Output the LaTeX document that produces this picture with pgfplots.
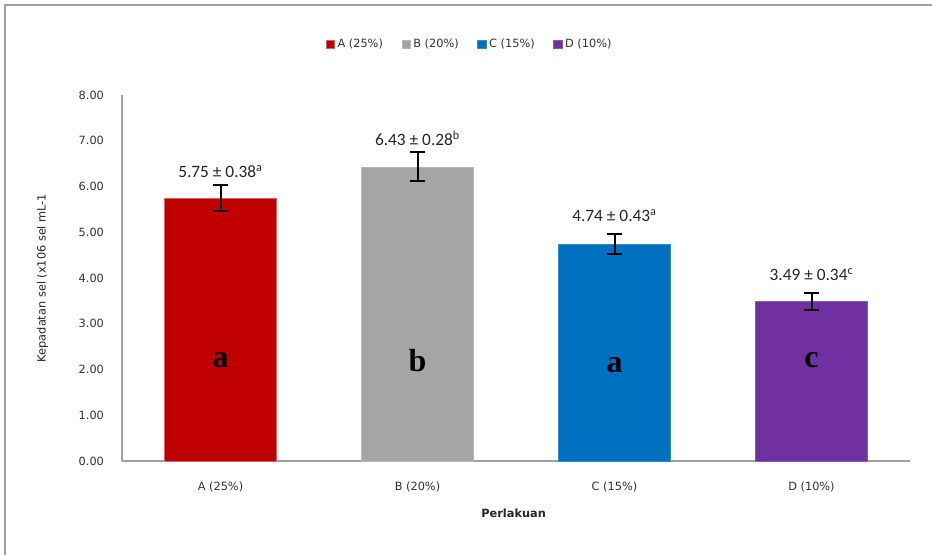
\documentclass[border=0pt]{standalone}
\usepackage{pgfplots}
\pgfplotsset{compat=1.18}
\usepackage{fontspec}
\setmainfont{DejaVu Sans}
\newfontfamily\annfont{Carlito}
\newfontfamily\letfont{Liberation Serif}
\definecolor{cA}{HTML}{C00000}
\definecolor{cB}{HTML}{A5A5A5}
\definecolor{cC}{HTML}{0070C0}
\definecolor{cD}{HTML}{7030A0}
\definecolor{axgray}{HTML}{A0A0A0}
\begin{document}
\begin{tikzpicture}
\path[use as bounding box] (0,0) rectangle (699pt,416.25pt);
\draw[axgray, line width=1.5pt] (3.75pt,0) -- (3.75pt,412.5pt) -- (699pt,412.5pt);
\begin{axis}[
  at={(91.5pt,70.5pt)}, anchor=south west,
  scale only axis, width=591pt, height=274.5pt,
  xmin=-0.5, xmax=3.5, ymin=0, ymax=8,
  axis x line*=bottom, axis y line*=left,
  axis line style={axgray, line width=1.2pt, -},
  major tick length=0pt,
  xtick={0,1,2,3},
  xticklabels={A (25\%), B (20\%), C (15\%), D (10\%)},
  ytick={0,1,...,8},
  yticklabel style={/pgf/number format/fixed, /pgf/number format/fixed zerofill, /pgf/number format/precision=2, /pgf/number format/assume math mode=true, xshift=-10pt},
  tick label style={font=\fontsize{8.5}{10}\selectfont, text=black!80},
  xticklabel style={yshift=-12pt},
  ylabel={Kepadatan sel (x106 sel mL-1},
  ylabel style={font=\fontsize{8.5}{10}\selectfont, text=black!85, at={(axis description cs:-0.088,0.5)}, anchor=south},
  xlabel={\textbf{Perlakuan}},
  xlabel style={font=\fontsize{8.5}{10}\selectfont, text=black!85, at={(axis description cs:0.497,-0.142)}, anchor=center},
  bar width=84pt,
  legend columns=4,
  legend style={draw=none, at={(0.4416,1.139)}, anchor=center, font=\fontsize{8.5}{10}\selectfont, text=black!80,
    /tikz/every even column/.append style={column sep=12pt}},
  legend image code/.code={\fill[#1] (0pt,-3.2pt) rectangle (6.4pt,3.2pt);},
  error bars/error bar style={black, line width=1.5pt},
  error bars/error mark options={black, line width=1.5pt, mark size=5.5pt, rotate=90},
  clip=false,
]
\addplot[ybar, bar shift=0pt, fill=cA, draw=cA!60, error bars/.cd, y dir=both, y explicit]
  coordinates {(0,5.75) +- (0,0.29)};
\addlegendentry{A (25\%)}
\addplot[ybar, bar shift=0pt, fill=cB, draw=cB!80, error bars/.cd, y dir=both, y explicit]
  coordinates {(1,6.43) +- (0,0.32)};
\addlegendentry{B (20\%)}
\addplot[ybar, bar shift=0pt, fill=cC, draw=cC!80, error bars/.cd, y dir=both, y explicit]
  coordinates {(2,4.74) +- (0,0.22)};
\addlegendentry{C (15\%)}
\addplot[ybar, bar shift=0pt, fill=cD, draw=cD!80, error bars/.cd, y dir=both, y explicit]
  coordinates {(3,3.49) +- (0,0.19)};
\addlegendentry{D (10\%)}
\begin{scope}[every node/.style={font=\annfont\fontsize{13}{15}\selectfont, text=black!85}]
\node at (axis cs:0,6.32) {5.75 ± 0.38\textsuperscript{a}};
\node at (axis cs:1,7.06) {6.43 ± 0.28\textsuperscript{b}};
\node at (axis cs:2,5.36) {4.74 ± 0.43\textsuperscript{a}};
\node at (axis cs:3,4.07) {3.49 ± 0.34\textsuperscript{c}};
\end{scope}
\begin{scope}[every node/.style={font=\letfont\bfseries\fontsize{24}{26}\selectfont}]
\node at (axis cs:0,2.2) {a};
\node at (axis cs:1,2.2) {b};
\node at (axis cs:2,2.1) {a};
\node at (axis cs:3,2.2) {c};
\end{scope}
\end{axis}
\end{tikzpicture}
\end{document}
